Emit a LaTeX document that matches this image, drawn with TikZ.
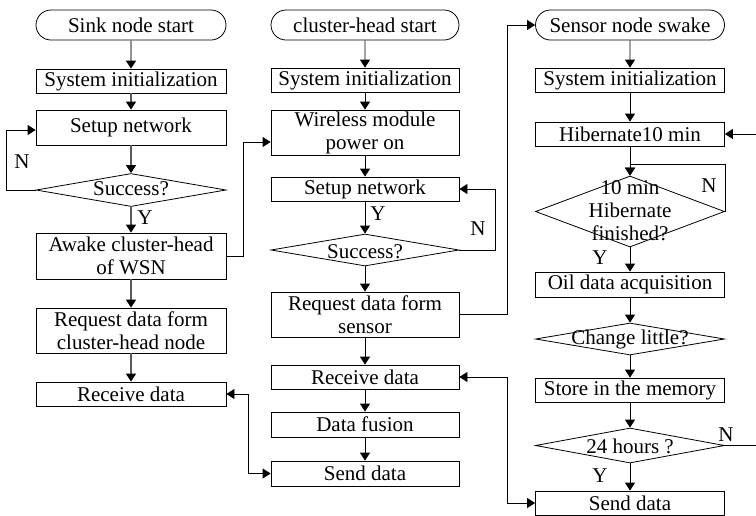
\documentclass[tikz,border=0pt]{standalone}
\usepackage{fontspec}
\setmainfont{Liberation Serif}
\usetikzlibrary{shapes.geometric,shapes.misc,arrows.meta,calc}
\begin{document}
\begin{tikzpicture}[x=1pt,y=-1pt,
  every node/.style={font=\fontsize{21}{23}\selectfont},
  box/.style={draw,line width=0.8pt,rectangle,inner sep=0pt,align=center},
  startbox/.style={draw,line width=0.8pt,rounded rectangle,inner sep=0pt,minimum height=30pt},
  dec/.style={draw,line width=0.8pt,diamond,inner sep=0pt},
  lbl/.style={inner sep=0pt},
  arr/.style={line width=0.8pt,-{Triangle[length=8pt,width=10pt]}},
  arrg/.style={line width=1.4pt,draw=black!65,-{Triangle[length=8pt,width=10pt,fill=black,color=black]}},
  dbl/.style={line width=0.8pt,{Triangle[length=8pt,width=10pt]}-{Triangle[length=8pt,width=10pt]}},
  ln/.style={line width=0.8pt}]
\useasboundingbox (0,0) rectangle (756,515);
% column 1
\node[startbox,minimum width=190pt] (s1) at (131,25) {Sink node start};
\node[box,minimum width=190pt,minimum height=24pt] (i1) at (131,81) {System initialization};
\node[box,minimum width=190pt,minimum height=35pt] (n1) at (131,127.5) {Setup network};
\node[dec,minimum width=190pt,minimum height=33pt] (d1) at (131,190) {};
\node[lbl] (d1t) at (131,189) {Success?};
\node[box,minimum width=190pt,minimum height=46pt] (a1) at (131,256) {Awake cluster-head\\of WSN};
\node[box,minimum width=190pt,minimum height=45pt] (r1) at (131,330.5) {Request data form\\cluster-head node};
\node[box,minimum width=190pt,minimum height=24pt] (v1) at (131,394) {Receive data};
\node[lbl] (ln1) at (22,162) {N};
\node[lbl] (ly1) at (145,218) {Y};
% column 2
\node[startbox,minimum width=188pt] (s2) at (365,25) {cluster-head start};
\node[box,minimum width=188pt,minimum height=24pt] (i2) at (365,80) {System initialization};
\node[box,minimum width=188pt,minimum height=45pt] (w2) at (365,132.5) {Wireless module\\power on};
\node[box,minimum width=188pt,minimum height=24pt] (n2) at (365,189) {Setup network};
\node[dec,minimum width=188pt,minimum height=32pt] (d2) at (365,250) {};
\node[lbl] (d2t) at (365,252) {Success?};
\node[box,minimum width=188pt,minimum height=45pt] (q2) at (365,314.5) {Request data form\\sensor};
\node[box,minimum width=188pt,minimum height=24pt] (v2) at (365,377) {Receive data};
\node[box,minimum width=188pt,minimum height=25pt] (f2) at (365,424.5) {Data fusion};
\node[box,minimum width=188pt,minimum height=25pt] (t2) at (365,473.5) {Send data};
\node[lbl] (ly2) at (378,214) {Y};
\node[lbl] (ln2) at (478,229) {N};
% column 3
\node[startbox,minimum width=189pt] (s3) at (630,25) {Sensor node swake};
\node[box,minimum width=189pt,minimum height=24pt] (i3) at (630,80) {System initialization};
\node[box,minimum width=189pt,minimum height=24pt] (h3) at (630,134) {Hibernate10 min};
\node[dec,minimum width=189pt,minimum height=71pt] (d3) at (630,211.5) {};
\node[lbl,align=center] (d3t) at (630,211) {10 min\\Hibernate\\finished?};
\node[box,minimum width=189pt,minimum height=25pt] (o3) at (630,284.5) {Oil data acquisition};
\node[dec,minimum width=189pt,minimum height=32pt] (c3) at (630,339) {};
\node[lbl] (c3t) at (630,339) {Change little?};
\node[box,minimum width=189pt,minimum height=24pt] (m3) at (630,390) {Store in the memory};
\node[dec,minimum width=189pt,minimum height=35pt] (e3) at (630,445.5) {};
\node[lbl] (e3t) at (630,446) {24 hours ?};
\node[box,minimum width=189pt,minimum height=24pt] (t3) at (630,503) {Send data};
\node[lbl] (ln3) at (709,186) {N};
\node[lbl] (ly3) at (600,258) {Y};
\node[lbl] (ln4) at (726,435) {N};
\node[lbl] (ly4) at (600,476) {Y};
\coordinate (rin) at (756,134);
\coordinate (rout) at (756,445.5);
% column 1 connectors
\draw[arrg] (s1) -- (i1);
\draw[arrg] (i1) -- (n1);
\draw[arrg] (n1) -- (d1.north);
\draw[arrg] (d1.south) -- (a1);
\draw[arrg] (a1) -- (r1);
\draw[arrg] (r1) -- (v1);
\draw[arr] (d1.west) -- (6,190) |- ([yshift=-2.5pt]n1.west);
% column 2 connectors
\draw[arr] (s2) -- (i2);
\draw[arr] (i2) -- (w2);
\draw[arr] (w2) -- (n2);
\draw[arr] (n2) -- (d2.north);
\draw[arr] (d2.south) -- (q2);
\draw[arr] (q2) -- (v2);
\draw[arr] (v2) -- (f2);
\draw[arr] (f2) -- (t2);
\draw[arr] (d2.east) -- (495,250) |- (n2.east);
% column 3 connectors
\draw[arr] (s3) -- (i3);
\draw[arr] (i3) -- (h3);
\draw[arr] (h3) -- (d3.north);
\draw[arr] (d3.east) |- ([yshift=11pt]d3.north) -- (d3.north);
\draw[arr] (d3.south) -- (o3);
\draw[arr] (o3) -- (c3.north);
\draw[arr] (c3.south) -- (m3);
\draw[arr] (m3) -- (e3.north);
\draw[arr] (e3.south) -- (t3);
\draw[arr] (rin) -- (h3.east);
\draw[ln] (e3.east) -- (rout);
% cross-column connectors
\draw[arr] (a1.east) -- (243,256) |- ([yshift=-9.5pt]w2.west);
\draw[arr] (q2.east) -- (507,314.5) |- (s3.west);
\draw[dbl] (v1.east) -- (248,394) |- (t2.west);
\draw[dbl] (v2.east) -- (507,377) |- (t3.west);
\end{tikzpicture}
\end{document}
